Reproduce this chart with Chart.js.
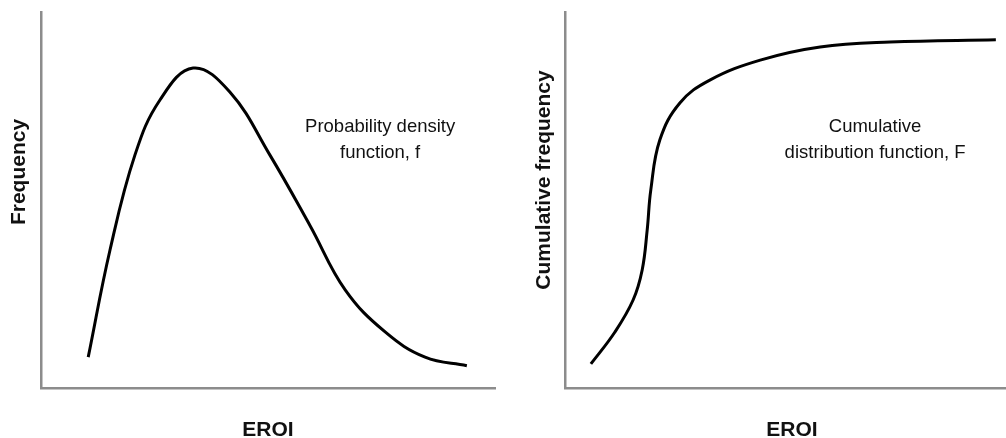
<!DOCTYPE html>
<html>
<head>
<meta charset="utf-8">
<script src="https://cdn.jsdelivr.net/npm/chart.js@4.4.1/dist/chart.umd.min.js"></script>
<style>
  html, body { margin: 0; padding: 0; background: #fff; }
  #wrap { position: relative; width: 1006px; height: 438px; overflow: hidden; }
  canvas { position: absolute; top: 0; }
  #pdf { left: 0; }
  #cdf { left: 503px; }
</style>
</head>
<body>
<div id="wrap">
  <canvas id="pdf" width="503" height="438"></canvas>
  <canvas id="cdf" width="516" height="438"></canvas>
</div>
<script>
// EROI on x, frequency on y (both in arbitrary units 0-100)
var pdfX = [10.4, 15.2, 20.7, 26.2, 33.5, 41.6, 50.4, 59.3, 67.0, 75.8, 84.6, 93.8];
var pdfY = [8.2, 36.7, 62.0, 76.6, 85.1, 78.7, 62.0, 43.1, 26.1, 14.9, 8.2, 5.9];

var cdfX = [5.7, 11.0, 15.0, 17.0, 18.1, 18.9, 20.9, 25.3, 31.9, 43.0, 56.2, 71.6, 94.9];
var cdfY = [6.4, 14.9, 23.4, 31.4, 42.0, 52.7, 66.0, 75.8, 81.9, 87.2, 90.7, 92.0, 92.6];

var xTitle = 'EROI';
var pdfTitle = 'Frequency';
var cdfTitle = 'Cumulative frequency';
var pdfNote = ['Probability density', 'function, f'];
var cdfNote = ['Cumulative', 'distribution function, F'];
// where the notes sit, in data units (centre x, first baseline y)
var pdfNoteAt = [74.7, 68.1];
var cdfNoteAt = [68.3, 68.1];

function toPoints(xs, ys) {
  return xs.map(function (x, i) { return { x: x, y: ys[i] }; });
}

// draws the axis titles and the note text
var labels = {
  id: 'labels',
  afterDraw: function (chart, args, opts) {
    var c = chart.ctx, a = chart.chartArea;
    var sx = chart.scales.x, sy = chart.scales.y;
    c.save();
    c.fillStyle = '#111';
    c.font = 'bold 21px "Liberation Sans", Arial, sans-serif';
    c.textAlign = 'center';
    c.textBaseline = 'alphabetic';
    c.fillText(xTitle, (a.left + a.right) / 2, 436);

    c.save();
    c.translate(opts.yTitleX, opts.yTitleY);
    c.rotate(-Math.PI / 2);
    c.fillText(opts.yTitle, 0, 0);
    c.restore();

    c.font = '18.5px "Liberation Sans", Arial, sans-serif';
    var nx = sx.getPixelForValue(opts.noteAt[0]);
    var ny = sy.getPixelForValue(opts.noteAt[1]);
    opts.note.forEach(function (line, i) {
      c.fillText(line, nx, ny + i * 26);
    });
    c.restore();
  }
};

function makeChart(id, xs, ys, pad, plugOpts) {
  return new Chart(document.getElementById(id).getContext('2d'), {
    type: 'line',
    data: {
      datasets: [{
        data: toPoints(xs, ys),
        borderColor: '#000',
        borderWidth: 3,
        pointRadius: 0,
        fill: false,
        tension: 0.4
      }]
    },
    options: {
      responsive: false,
      animation: false,
      layout: { padding: pad },
      plugins: {
        legend: { display: false },
        tooltip: { enabled: false },
        labels: plugOpts
      },
      scales: {
        x: {
          type: 'linear', min: 0, max: 100,
          ticks: { display: false },
          grid: { display: false, drawTicks: false },
          border: { display: true, color: '#8c8c8c', width: 2.5 }
        },
        y: {
          type: 'linear', min: 0, max: 100,
          ticks: { display: false },
          grid: { display: false, drawTicks: false },
          border: { display: true, color: '#8c8c8c', width: 2.5 }
        }
      }
    },
    plugins: [labels]
  });
}

makeChart('pdf', pdfX, pdfY, { left: 41, top: 12, right: 8, bottom: 50 },
  { yTitle: pdfTitle, yTitleX: 25, yTitleY: 172, note: pdfNote, noteAt: pdfNoteAt });
makeChart('cdf', cdfX, cdfY, { left: 62, top: 12, right: 0, bottom: 50 },
  { yTitle: cdfTitle, yTitleX: 47, yTitleY: 180, note: cdfNote, noteAt: cdfNoteAt });
</script>
</body>
</html>
